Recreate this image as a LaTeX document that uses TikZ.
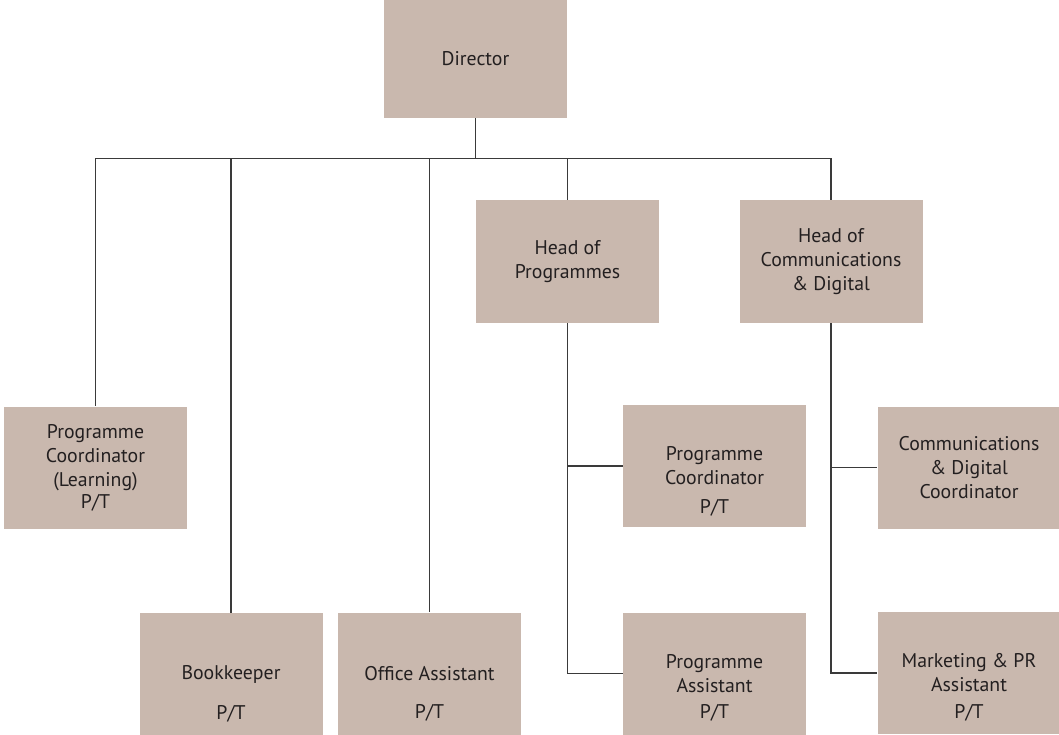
\documentclass[tikz,border=0pt]{standalone}
\usepackage{fontspec}
\setmainfont{PT Sans}
\usepackage{xcolor}
\usetikzlibrary{positioning, calc}
\definecolor{orgfill}{HTML}{C9B8AE}
\definecolor{orgink}{HTML}{231F20}
\definecolor{orgwirecol}{HTML}{3A3A3A}
\tikzset{
    orgbox/.style={fill=orgfill, draw=none, align=center, text=orgink, minimum width=183pt, minimum height=122pt, inner sep=2pt, font=\fontsize{19.8}{24}\selectfont},
    orgpt/.style={anchor=base, text=orgink, inner sep=0pt, font=\fontsize{19.8}{24}\selectfont},
    orgwire/.style={draw=orgwirecol, line width=1.2pt},
}

\begin{document}
\begin{tikzpicture}[x=1pt, y=-1pt]
        \useasboundingbox (0,0) rectangle (1059,735);
        \clip (0,0) rectangle (1059,735);
        % Top
        \node[orgbox, minimum height=118pt] (dir) at (475.5,59) {Director};
        % Heads
        \node[orgbox, minimum height=123pt] (hop) at (567.5,261.5) {Head of\\Programmes};
        \node[orgbox, minimum height=123pt] (hoc) at (831,261.5)   {Head of\\Communications\\\& Digital};
        % Staff
        \node[orgbox] (pcl) at (95.5,467.5) {Programme\\Coordinator\\(Learning)\\[-2pt]P/T};
        \node[orgbox] (bk)  at (231,674)    {Bookkeeper};
        \node[orgbox] (oa)  at (429.5,673.5){Office Assistant};
        \node[orgbox] (pc)  at (714.5,466)  {Programme\\Coordinator};
        \node[orgbox] (pa)  at (714.5,673.5){Programme\\Assistant};
        \node[orgbox] (cdc) at (969,467.5)  {Communications\\\& Digital\\Coordinator};
        \node[orgbox] (mk)  at (969,673)    {Marketing \& PR\\Assistant};
        % Part-time marks
        \node[orgpt] (bkpt) at ([yshift=16pt]bk.south) {P/T};
        \node[orgpt] (oapt) at ([yshift=16pt]oa.south) {P/T};
        \node[orgpt] (pcpt) at ([yshift=14pt]pc.south) {P/T};
        \node[orgpt] (papt) at ([yshift=16pt]pa.south) {P/T};
        \node[orgpt] (mkpt) at ([yshift=16pt]mk.south) {P/T};
        % Lines
        \draw[orgwire] (dir.south) -- ++(0,40) coordinate (bus);
        \draw[orgwire] (bus -| pcl.north) -- (bus -| hoc.north);
        \draw[orgwire] (bus -| pcl.north) -- (pcl.north);
        \draw[orgwire] (bus -| bk.north) -- (bk.north);
        \draw[orgwire] (bus -| oa.north) -- (oa.north);
        \draw[orgwire] (bus -| hop.north) -- (hop.north);
        \draw[orgwire] (bus -| hoc.north) -- (hoc.north);
        \draw[orgwire] (hop.south) |- (pc.west);
        \draw[orgwire] (hop.south) |- (pa.west);
        \draw[orgwire] (hoc.south) |- (cdc.west);
        \draw[orgwire] (hoc.south) |- (mk.west);
    \end{tikzpicture}
\end{document}
